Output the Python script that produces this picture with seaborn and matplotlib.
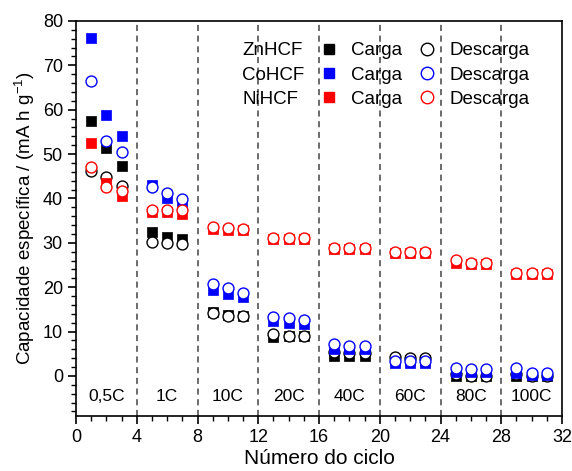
import numpy as np
import pandas as pd
import matplotlib
matplotlib.use("Agg")
import matplotlib.pyplot as plt
import seaborn as sns
from matplotlib.lines import Line2D
from matplotlib.ticker import MultipleLocator

# cycle numbers (one point per cycle, 3 cycles per C-rate)
cycles = [1, 2, 3, 5, 6, 7, 9, 10, 11, 13, 14, 15, 17, 18, 19, 21, 22, 23, 25, 26, 27, 29, 30, 31]

zn_carga = [57.5, 51.4, 47.3, 32.5, 31.4, 30.9, 14.4, 13.8, 13.5, 8.7, 8.9, 8.9,
            4.6, 4.6, 4.6, 3.6, 3.6, 3.6, 0.0, 0.0, 0.0, 0.0, 0.0, 0.0]
zn_desc = [46.1, 44.9, 42.8, 30.2, 30.0, 29.8, 14.2, 13.6, 13.4, 9.4, 9.1, 9.1,
           5.3, 5.2, 5.2, 4.2, 4.1, 4.1, 0.4, 0.1, 0.1, 0.4, 0.1, 0.1]
co_carga = [76.2, 58.9, 54.0, 43.1, 40.1, 38.9, 19.3, 18.4, 17.7, 12.4, 12.0, 11.8,
            6.0, 6.0, 6.0, 3.0, 3.0, 3.0, 0.8, 0.8, 0.8, 0.6, 0.3, 0.3]
co_desc = [66.4, 52.9, 50.5, 42.5, 41.2, 39.9, 20.8, 19.8, 18.8, 13.3, 13.0, 12.7,
           7.2, 6.8, 6.7, 3.4, 3.4, 3.4, 1.9, 1.6, 1.6, 1.8, 0.6, 0.6]
ni_carga = [52.4, 43.4, 40.5, 37.0, 37.0, 36.5, 33.2, 33.0, 32.9, 30.8, 30.8, 30.8,
            28.7, 28.7, 28.7, 27.7, 27.7, 27.7, 25.5, 25.3, 25.3, 22.9, 22.9, 22.9]
ni_desc = [47.0, 42.6, 41.6, 37.5, 37.5, 37.4, 33.6, 33.3, 33.1, 31.1, 31.0, 31.0,
           28.9, 28.9, 28.9, 28.0, 27.9, 27.9, 26.1, 25.5, 25.5, 23.1, 23.1, 23.1]

rate_labels = ["0,5C", "1C", "10C", "20C", "40C", "60C", "80C", "100C"]
rate_bounds = [4, 8, 12, 16, 20, 24, 28]

materials = ["ZnHCF", "CoHCF", "NiHCF"]
colors = {"ZnHCF": "#000000", "CoHCF": "#0000ff", "NiHCF": "#ff0000"}
carga = {"ZnHCF": zn_carga, "CoHCF": co_carga, "NiHCF": ni_carga}
descarga = {"ZnHCF": zn_desc, "CoHCF": co_desc, "NiHCF": ni_desc}

sns.set_style("ticks")
plt.rcParams['font.family'] = ['Liberation Sans', 'DejaVu Sans']
plt.rcParams['mathtext.fontset'] = 'custom'
plt.rcParams['mathtext.rm'] = 'Liberation Sans'
plt.rcParams['mathtext.it'] = 'Liberation Sans:italic'
for k in ['text.color', 'axes.labelcolor', 'xtick.color', 'ytick.color',
          'xtick.labelcolor', 'ytick.labelcolor', 'axes.edgecolor']:
    plt.rcParams[k] = 'black'

fig = plt.figure(figsize=(5.72, 4.71), dpi=100)
ax = fig.add_axes([0.133, 0.117, 0.8495, 0.8385])

for m in materials:
    df_c = pd.DataFrame({"ciclo": cycles, "cap": carga[m]})
    df_d = pd.DataFrame({"ciclo": cycles, "cap": descarga[m]})
    sns.scatterplot(data=df_c, x="ciclo", y="cap", marker="s", s=56,
                    color=colors[m], edgecolor=colors[m], linewidth=0.5, ax=ax, zorder=3)
    sns.scatterplot(data=df_d, x="ciclo", y="cap", marker="o", s=62,
                    facecolor="white", edgecolor=colors[m], linewidth=1.0, ax=ax, zorder=3)

for b in rate_bounds:
    ax.axvline(b, color="#444444", linestyle=(0, (4, 3)), linewidth=1.1, zorder=1)

for i, lab in enumerate(rate_labels):
    ax.text(4 * i + 2, -4.7, lab, ha="center", va="center", fontsize=12.5)

ax.set_xlim(0, 32)
ax.set_ylim(-9, 80)
ax.xaxis.set_major_locator(MultipleLocator(4))
ax.xaxis.set_minor_locator(MultipleLocator(1))
ax.yaxis.set_major_locator(MultipleLocator(10))
ax.yaxis.set_minor_locator(MultipleLocator(2))
ax.set_yticks(np.arange(0, 81, 10))
ax.tick_params(axis="both", which="major", direction="out", length=6, width=1.2,
               labelsize=13, color="black")
ax.tick_params(axis="both", which="minor", direction="out", length=3.5, width=1.0, color="black")
for sp in ax.spines.values():
    sp.set_linewidth(1.2)
    sp.set_color("black")

ax.set_xlabel("Número do ciclo", fontsize=15, labelpad=2)
ax.set_ylabel("Capacidade específica / (mA h g$^{-1}$)", fontsize=13.5, labelpad=4)

# legend: names | Carga | Descarga
blank = [Line2D([], [], linestyle="none") for m in materials]
sq = [Line2D([], [], linestyle="none", marker="s", markersize=7.5,
             markerfacecolor=colors[m], markeredgecolor=colors[m]) for m in materials]
ci = [Line2D([], [], linestyle="none", marker="o", markersize=9, markerfacecolor="white",
             markeredgecolor=colors[m], markeredgewidth=1.0) for m in materials]
handles = blank + sq + ci
labels = materials + ["Carga"] * 3 + ["Descarga"] * 3
ax.legend(handles, labels, ncol=3, loc="upper left", bbox_to_anchor=(0.262, 0.965),
          frameon=False, fontsize=13.5, handlelength=1.0, handletextpad=0.67,
          columnspacing=0.83, labelspacing=0.38, borderaxespad=0)

fig.savefig("out.png", dpi=100)
